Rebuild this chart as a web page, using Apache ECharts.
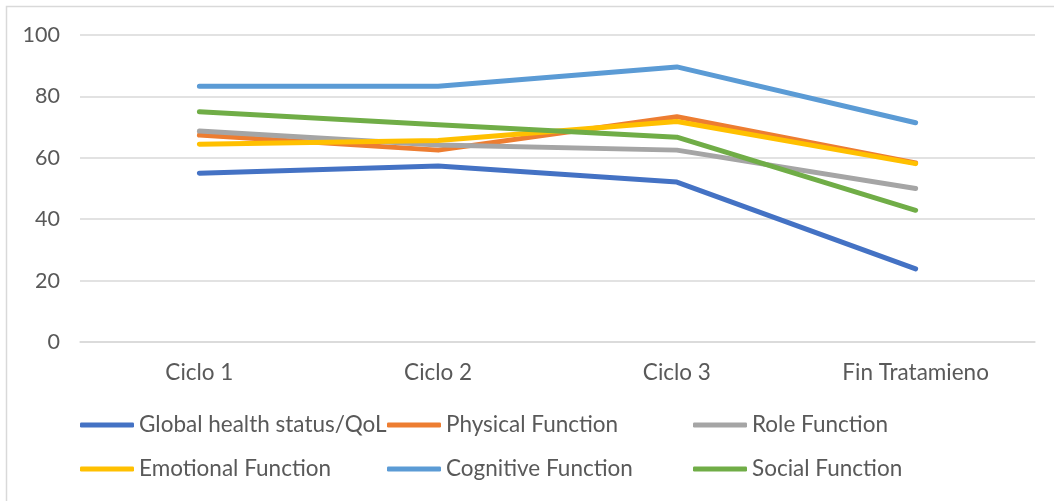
<!DOCTYPE html>
<html>
<head>
<meta charset="utf-8">
<script src="https://cdn.jsdelivr.net/npm/echarts@6/dist/echarts.min.js"></script>
<style>
  html, body { margin: 0; padding: 0; background: #ffffff; }
  #chart { width: 1054px; height: 501px; }
</style>
</head>
<body>
<div id="chart"></div>
<script>
// Quality-of-life scores across treatment cycles
const categories = ['Ciclo 1', 'Ciclo 2', 'Ciclo 3', 'Fin Tratamieno'];

const globalHealth = [55.0, 57.3, 52.1, 23.8];
const physicalFunction = [67.4, 62.5, 73.4, 58.3];
const roleFunction = [68.7, 64.2, 62.5, 50.0];
const emotionalFunction = [64.4, 65.6, 71.8, 58.1];
const cognitiveFunction = [83.3, 83.3, 89.6, 71.4];
const socialFunction = [75.0, 70.8, 66.7, 42.9];

const yTicks = { min: 0, max: 100, interval: 20 };

const seriesDefs = [
  { name: 'Global health status/QoL', data: globalHealth, color: '#4472C4' },
  { name: 'Physical Function', data: physicalFunction, color: '#ED7D31' },
  { name: 'Role Function', data: roleFunction, color: '#A5A5A5' },
  { name: 'Emotional Function', data: emotionalFunction, color: '#FFC000' },
  { name: 'Cognitive Function', data: cognitiveFunction, color: '#5B9BD5' },
  { name: 'Social Function', data: socialFunction, color: '#70AD47' }
];

const FONT = 'Lato';
const TEXT_COLOR = '#595959';
const FONT_SIZE = 22.5;

// legend slots: three columns, two rows
const legendCols = [75, 382, 688];
const legendRows = [407, 451];

const legends = seriesDefs.map((s, i) => ({
  data: [{ name: s.name, itemStyle: { color: s.color } }],
  left: legendCols[i % 3],
  top: legendRows[Math.floor(i / 3)],
  icon: 'roundRect',
  itemWidth: 54,
  itemHeight: 5,
  textStyle: { fontFamily: FONT, fontSize: FONT_SIZE, color: TEXT_COLOR, lineHeight: 26 },
  selectedMode: false
}));

const chart = echarts.init(document.getElementById('chart'), null, { renderer: 'canvas' });

chart.setOption({
  backgroundColor: '#ffffff',
  animation: false,
  graphic: [{
    type: 'rect',
    shape: { x: 6.5, y: 6.5, width: 1100, height: 600 },
    style: { fill: 'none', stroke: '#d9d9d9', lineWidth: 1.5 },
    silent: true
  }],
  grid: { left: 80, right: 19, top: 35, bottom: 159 },
  legend: legends,
  xAxis: {
    type: 'category',
    data: categories,
    boundaryGap: true,
    axisLine: { show: true, lineStyle: { color: '#d9d9d9', width: 1.5 } },
    axisTick: { show: false },
    axisLabel: { fontFamily: FONT, fontSize: FONT_SIZE, color: TEXT_COLOR, margin: 19 }
  },
  yAxis: {
    type: 'value',
    min: yTicks.min,
    max: yTicks.max,
    interval: yTicks.interval,
    axisLine: { show: false },
    axisTick: { show: false },
    splitLine: { lineStyle: { color: '#d9d9d9', width: 1.5 } },
    axisLabel: { fontFamily: FONT, fontSize: 21.5, color: TEXT_COLOR, margin: 20 }
  },
  series: seriesDefs.map(s => ({
    name: s.name,
    type: 'line',
    data: s.data,
    symbol: 'none',
    smooth: false,
    color: s.color,
    lineStyle: { color: s.color, width: 5, cap: 'round', join: 'round' }
  }))
});
</script>
</body>
</html>
